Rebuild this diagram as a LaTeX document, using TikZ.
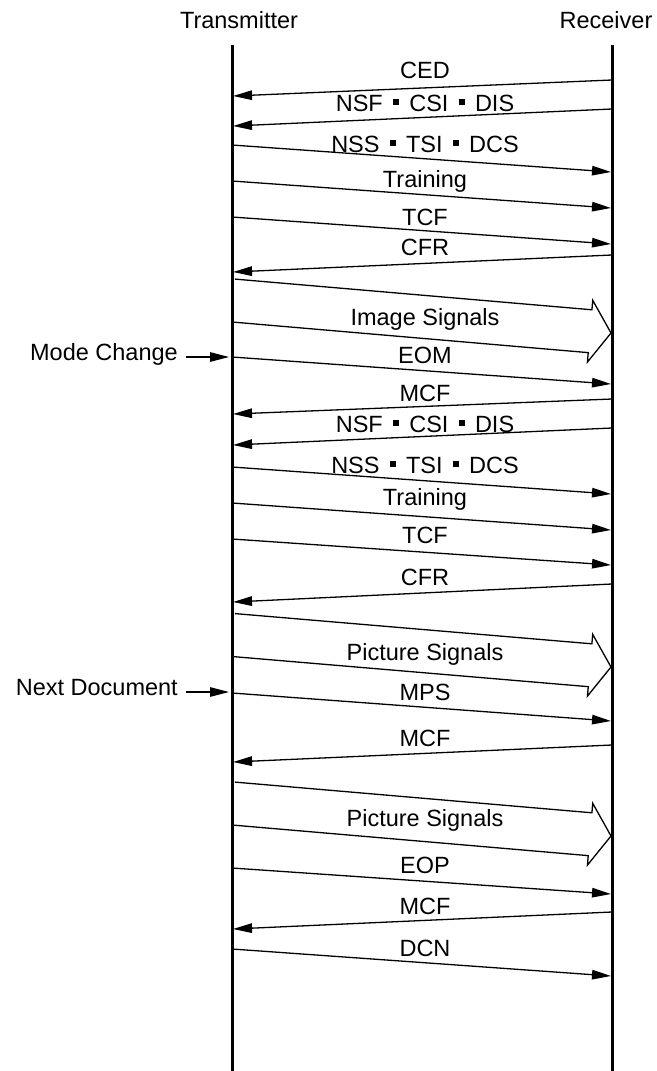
\documentclass[tikz,border=0pt]{standalone}
\usepackage{fontspec}
\setmainfont{Liberation Sans}
\usetikzlibrary{arrows.meta,calc}
\newcommand{\sepsq}{\hspace{10.5pt}\rule[6.5pt]{5.5pt}{5.5pt}\hspace{10.5pt}}
\newcommand{\msgLR}[5]{%
  \coordinate (#1a) at (232,#2);
  \coordinate (#1b) at (611,#3);
  \draw[msg] (#1a) -- (#1b);
  \node[lbl] (#1l) at (425,#4) {#5};}
\newcommand{\msgRL}[5]{%
  \coordinate (#1a) at (612,#2);
  \coordinate (#1b) at (233,#3);
  \draw[msg] (#1a) -- (#1b);
  \node[lbl] (#1l) at (425,#4) {#5};}
\newcommand{\blockmsg}[5]{%
  \coordinate (#1s) at (233,#2);
  \coordinate (#1t) at (611,#3);
  \coordinate (#1c) at ($(#1t)!21pt!(#1s)$);
  \draw[blk] ($(#1s)!21.5pt!90:(#1t)$) -- ($(#1c)!21.5pt!90:(#1t)$)
    -- ($(#1c)!31pt!90:(#1t)$) -- (#1t) -- ($(#1c)!31pt!-90:(#1t)$)
    -- ($(#1c)!21.5pt!-90:(#1t)$) -- ($(#1s)!21.5pt!-90:(#1t)$);
  \node[lbl] (#1l) at (425,#4) {#5};}
\begin{document}
\begin{tikzpicture}[x=1pt,y=-1pt,
  lbl/.style={inner sep=0pt, anchor=base, font=\fontsize{23.5}{28}\selectfont},
  msg/.style={line width=1.3pt, -{Triangle[length=19pt,width=9.5pt]}},
  life/.style={line width=3pt},
  blk/.style={line width=1.3pt, line join=miter}]
\useasboundingbox (0,0) rectangle (656,1071);
% lifelines
\node[lbl] (tx) at (239,28) {Transmitter};
\node[lbl] (rx) at (606,28) {Receiver};
\coordinate (txtop) at (232,45);
\coordinate (txbot) at (232,1071);
\coordinate (rxtop) at (612,45);
\coordinate (rxbot) at (612,1071);
\draw[life] (txtop) -- (txbot);
\draw[life] (rxtop) -- (rxbot);
% phase 1
\msgRL{m1}{80}{96}{78}{CED}
\msgRL{m2}{109}{126}{111}{NSF\sepsq CSI\sepsq DIS}
\msgLR{m3}{145}{172}{152}{NSS\sepsq TSI\sepsq DCS}
\msgLR{m4}{181}{208}{187}{Training}
\msgLR{m5}{217}{244}{225}{TCF}
\msgRL{m6}{255}{272}{255}{CFR}
\blockmsg{b1}{300.5}{333}{325}{Image Signals}
\node[lbl, anchor=base east] (mc) at (178,360) {Mode Change};
\coordinate (mcT) at (229,357);
\draw[msg] ([xshift=8pt,yshift=3pt]mc.base east) -- (mcT);
\msgLR{m7}{357}{384}{363}{EOM}
% phase 2
\msgRL{m8}{399}{414}{401}{MCF}
\msgRL{m9}{428}{445}{432}{NSF\sepsq CSI\sepsq DIS}
\msgLR{m10}{467}{494}{473}{NSS\sepsq TSI\sepsq DCS}
\msgLR{m11}{503}{530}{505}{Training}
\msgLR{m12}{539}{565}{543}{TCF}
\msgRL{m13}{584}{602}{585}{CFR}
\blockmsg{b2}{635}{667}{660}{Picture Signals}
\node[lbl, anchor=base east] (nd) at (178,695) {Next Document};
\coordinate (ndT) at (229,692);
\draw[msg] ([xshift=8pt,yshift=3pt]nd.base east) -- (ndT);
\msgLR{m14}{693}{721}{700}{MPS}
\msgRL{m15}{745}{762}{746}{MCF}
\blockmsg{b3}{803.5}{836}{826}{Picture Signals}
\msgLR{m16}{868}{894}{873}{EOP}
\msgRL{m17}{912}{929}{914}{MCF}
\msgLR{m18}{949}{976}{956}{DCN}
\end{tikzpicture}
\end{document}
